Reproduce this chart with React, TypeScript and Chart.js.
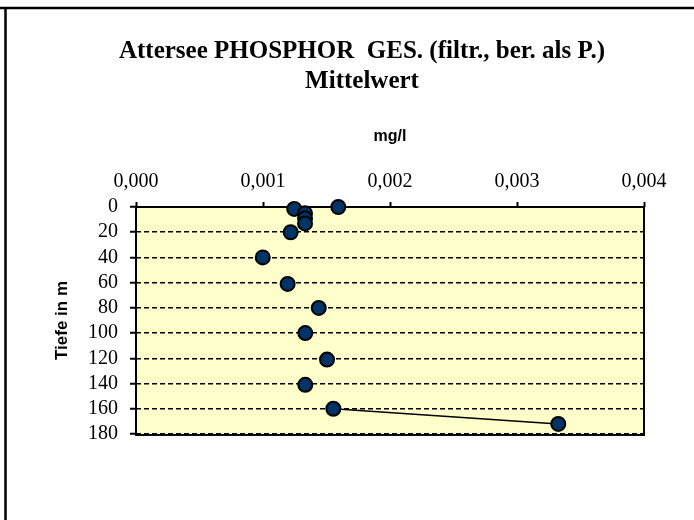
import React, { useEffect, useRef } from "react";
import { Chart, registerables } from "chart.js";

Chart.register(...registerables);

const titleLines = ["Attersee PHOSPHOR  GES. (filtr., ber. als P.)", "Mittelwert"];
const xAxisTitle = "mg/l";
const yAxisTitle = "Tiefe in m";

// mg/l values and depths (m)
const concentration = [0.001593, 0.001246, 0.001331, 0.001331, 0.001331, 0.001218, 0.000998, 0.001194, 0.001439, 0.001333, 0.001504, 0.001333, 0.001554, 0.003325];
const depth = [0, 1.5, 5, 9, 13, 20, 40, 61, 80, 100, 121, 141, 160, 172];

const xMin = 0;
const xMax = 0.004;
const xStep = 0.001;
const yMin = 0;
const yMax = 180;
const yStep = 20;

const W = 694;
const H = 520;

const framePlugin = {
  id: "frame",
  beforeDraw(chart: any) {
    const { ctx } = chart;
    ctx.save();
    ctx.fillStyle = "#ffffff";
    ctx.fillRect(0, 0, chart.width, chart.height);
    ctx.strokeStyle = "#000";
    ctx.lineWidth = 2.5;
    ctx.beginPath();
    ctx.moveTo(0, 8);
    ctx.lineTo(chart.width, 8);
    ctx.moveTo(5.5, 8);
    ctx.lineTo(5.5, chart.height);
    ctx.stroke();
    const a = chart.chartArea;
    ctx.fillStyle = "#FFFFCC";
    ctx.fillRect(a.left, a.top, a.right - a.left, a.bottom - a.top);
    // solid bottom edge under the dashed last grid line
    ctx.strokeStyle = "#000";
    ctx.lineWidth = 2;
    ctx.beginPath();
    ctx.moveTo(a.left, a.bottom + 1);
    ctx.lineTo(a.right, a.bottom + 1);
    ctx.stroke();
    ctx.restore();
  },
  beforeDatasetsDraw(chart: any) {
    const { ctx } = chart;
    const a = chart.chartArea;
    ctx.save();
    ctx.strokeStyle = "#000";
    ctx.lineWidth = 2;
    ctx.beginPath();
    ctx.moveTo(a.left, a.top);
    ctx.lineTo(a.left, a.bottom + 2);
    ctx.moveTo(a.right, a.top);
    ctx.lineTo(a.right, a.bottom + 2);
    ctx.moveTo(a.left, a.top);
    ctx.lineTo(a.right, a.top);
    ctx.stroke();
    ctx.restore();
  },
};

export default function App() {
  const ref = useRef<HTMLCanvasElement | null>(null);
  useEffect(() => {
    if (!ref.current) return;
    const points = concentration.map((c, i) => ({ x: c, y: depth[i] }));
    const lastIdx = points.length - 1;
    const chart = new Chart(ref.current, {
      type: "scatter",
      data: {
        datasets: [
          {
            data: points,
            showLine: true,
            clip: false,
            borderColor: "#000",
            borderWidth: 1.5,
            segment: {
              borderColor: (ctx: any) => (ctx.p1DataIndex === lastIdx ? "#000" : "rgba(0,0,0,0)"),
            },
            pointRadius: 7,
            pointBackgroundColor: "#003366",
            pointBorderColor: "#000",
            pointBorderWidth: 2,
          } as any,
        ],
      },
      plugins: [framePlugin],
      options: {
        responsive: false,
        animation: false,
        events: [],
        layout: { padding: { left: 80, right: 50, top: 0, bottom: 86 } },
        plugins: {
          legend: { display: false },
          tooltip: { enabled: false },
          title: {
            display: true,
            text: titleLines,
            color: "#000",
            font: { family: "'Liberation Serif', serif", size: 25, weight: "bold", lineHeight: 1.2 },
            padding: { top: 37, bottom: 10 },
          },
        },
        scales: {
          x: {
            type: "linear",
            position: "top",
            min: xMin,
            max: xMax,
            afterFit: (s: any) => {
              s.height = 100;
            },
            ticks: {
              stepSize: xStep,
              autoSkip: false,
              maxRotation: 0,
              color: "#000",
              padding: 8,
              font: { family: "'Liberation Serif', serif", size: 20 },
              callback: (v: any) => Number(v).toFixed(3).replace(".", ","),
            },
            grid: { drawOnChartArea: false, drawTicks: true, tickLength: 5, tickColor: "#000", tickWidth: 2 },
            border: { display: false },
            title: {
              display: true,
              text: xAxisTitle,
              color: "#000",
              font: { family: "'Liberation Sans', Arial, sans-serif", size: 16, weight: "bold" },
              padding: { top: 20.4, bottom: 0 },
            },
          },
          y: {
            type: "linear",
            reverse: true,
            min: yMin,
            max: yMax,
            afterFit: (s: any) => {
              s.width = 56;
            },
            ticks: {
              stepSize: yStep,
              autoSkip: false,
              color: "#000",
              padding: 12,
              font: { family: "'Liberation Serif', serif", size: 20 },
            },
            grid: {
              color: "#000",
              lineWidth: 1.5,
              borderDash: [5, 3],
              tickLength: 6,
              tickColor: "#000",
              tickWidth: 2,
              tickBorderDash: [],
            } as any,
            border: { display: false, dash: [5, 3] },
            title: {
              display: true,
              text: yAxisTitle,
              color: "#000",
              font: { family: "'Liberation Sans', Arial, sans-serif", size: 17, weight: "bold" },
              padding: { top: -28.2, bottom: 0 },
            },
          },
        },
      } as any,
    });
    return () => chart.destroy();
  }, []);
  return (
    <div style={{ position: "absolute", left: 0, top: 0, width: W, height: H }}>
      <canvas ref={ref} width={W} height={H} style={{ display: "block" }} />
    </div>
  );
}
